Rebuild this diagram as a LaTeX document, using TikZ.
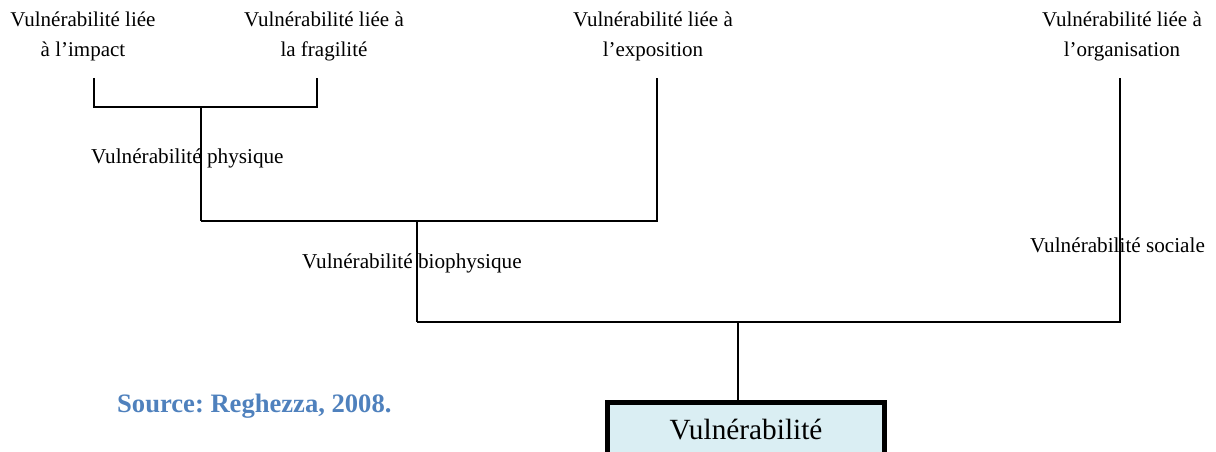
\documentclass[tikz,border=0pt]{standalone}
\usepackage{fontspec}
\setmainfont{Liberation Serif}
\frenchspacing
\definecolor{srcblue}{RGB}{79,129,189}
\definecolor{boxfill}{RGB}{218,238,243}
\begin{document}
\begin{tikzpicture}[x=1pt,y=-1pt,
  tree/.style={line width=1.8pt},
  lbl/.style={inner sep=0pt,font=\fontsize{21}{30}\selectfont,anchor=base,align=center},
  mid/.style={inner sep=0pt,font=\fontsize{21.2}{24}\selectfont,anchor=base west}]
\useasboundingbox (0,0) rectangle (1216,452);
\clip (0,0) rectangle (1216,452);
% top labels (base anchor = last line)
\node[lbl] (imp) at (83,57) {Vulnérabilité liée\\à l’impact};
\node[lbl] (fra) at (324,57) {Vulnérabilité liée à\\la fragilité};
\node[lbl] (exp) at (653,57) {Vulnérabilité liée à\\l’exposition};
\node[lbl] (org) at (1122,57) {Vulnérabilité liée à\\l’organisation};
% connector coordinates
\coordinate (p1) at (94,78);
\coordinate (p2) at (317,78);
\coordinate (p3) at (657,78);
\coordinate (p4) at (1120,78);
\coordinate (c1) at (201,107);
\coordinate (m1) at (201,221);
\coordinate (m2) at (417,322);
\coordinate (m3) at (738,322);
% box
\node[draw,line width=5pt,fill=boxfill,inner sep=0pt,minimum width=277pt,
      text height=37.5pt,text depth=60pt,anchor=north,
      font=\fontsize{29.3}{32}\selectfont] (vul) at (746,399.5) {Vulnérabilité};
% tree
\draw[tree] (p1) -- (p1 |- c1) -- (p2 |- c1) -- (p2);
\draw[tree] (c1) -- (m1);
\draw[tree] (m1) -| (p3);
\draw[tree] (m2 |- m1) -- (m2);
\draw[tree] (m2) -| (p4);
\draw[line width=1.4pt] (m3) -- (m3 |- vul.north);
% mid labels
\node[mid] (phy) at (91,163) {Vulnérabilité physique};
\node[mid] (bio) at (302,268) {Vulnérabilité biophysique};
\node[mid] (soc) at (1030,252) {Vulnérabilité sociale};
% source
\node[inner sep=0pt,anchor=base west,text=srcblue,font=\fontsize{26.6}{30}\selectfont\bfseries] (src) at (117,412) {Source: Reghezza, 2008.};
\end{tikzpicture}
\end{document}
